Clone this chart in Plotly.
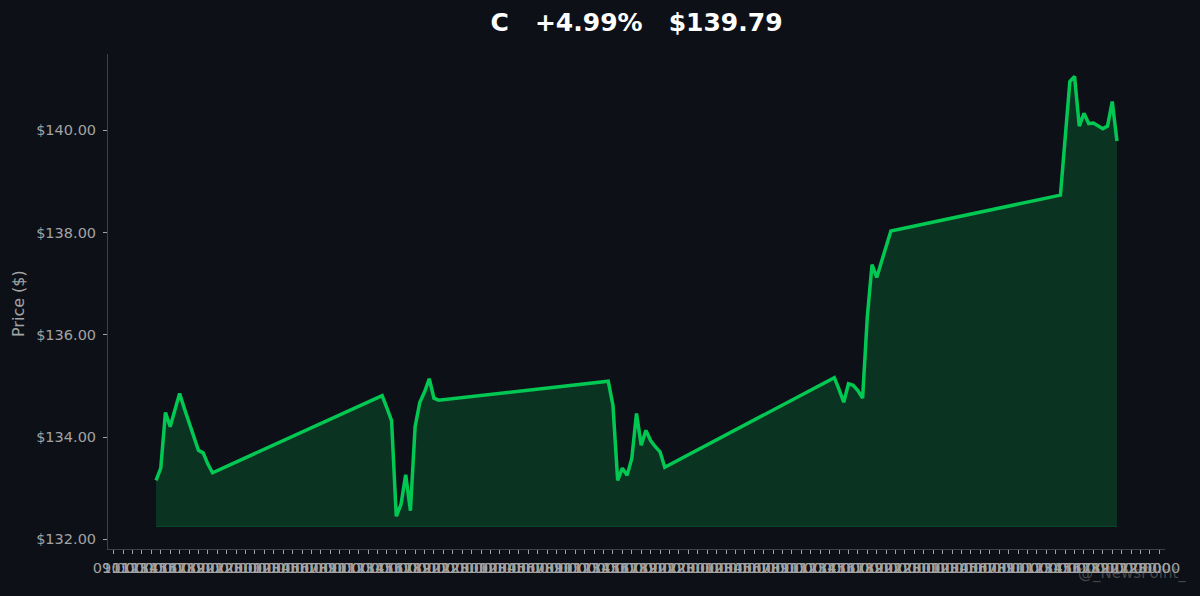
import pandas as pd
import plotly.graph_objects as go

# ---------------- data ----------------
ticker = "C"
trade_days = ["2025-06-02", "2025-06-03", "2025-06-04", "2025-06-05", "2025-06-06"]
bar_times = ["13:30", "14:00", "14:30", "15:00", "15:30", "16:00", "16:30",
             "17:00", "17:30", "18:00", "18:30", "19:00", "19:30"]

day1_prices = [133.15, 133.39, 134.48, 134.20, 134.53, 134.85, 134.56,
               134.30, 134.00, 133.74, 133.69, 133.47, 133.30]
day2_prices = [134.81, 134.57, 134.32, 132.45, 132.68, 133.26, 132.56,
               134.20, 134.68, 134.88, 135.14, 134.76, 134.72]
day3_prices = [135.09, 134.62, 133.15, 133.39, 133.25, 133.58, 134.46,
               133.84, 134.13, 133.93, 133.81, 133.71, 133.41]
day4_prices = [135.16, 134.93, 134.68, 135.04, 135.01, 134.91, 134.76,
               136.35, 137.37, 137.12, 137.44, 137.72, 138.03]
day5_prices = [138.73, 139.82, 140.95, 141.05, 140.08, 140.33, 140.13,
               140.14, 140.08, 140.03, 140.08, 140.56, 139.79]

y_tick_values = [132, 134, 136, 138, 140]

# ---------------- styles ----------------
BG = "#0d1117"
LINE = "#00c853"
FILL = "rgba(0,200,83,0.19)"
GRAY = "#a3a3a3"
SPINE = "#3d424a"
FONT = "DejaVu Sans"

# ---------------- build series ----------------
all_days = [day1_prices, day2_prices, day3_prices, day4_prices, day5_prices]
times, prices = [], []
for d, vals in zip(trade_days, all_days):
    for t, v in zip(bar_times, vals):
        times.append(pd.Timestamp(f"{d} {t}"))
        prices.append(v)

baseline = min(prices) - 0.2
first, last = prices[0], prices[-1]
pct = (last / first - 1) * 100

# axis ranges with 5% margins (matplotlib-like)
span = times[-1] - times[0]
x0 = times[0] - span * 0.05
x1 = times[-1] + span * 0.05
ylo, yhi = baseline, max(prices)
ypad = (yhi - ylo) * 0.05
y0, y1 = ylo - ypad, yhi + ypad

hour_ticks = pd.date_range(x0.ceil("h"), x1.floor("h"), freq="h")
hour_text = [t.strftime("%H:%M") for t in hour_ticks]

fig = go.Figure()
fig.add_trace(go.Scatter(
    x=times, y=[baseline] * len(times), mode="lines",
    line=dict(color="rgba(0,200,83,0.22)", width=1), hoverinfo="skip",
    showlegend=False))
fig.add_trace(go.Scatter(
    x=times, y=prices, mode="lines", fill="tonexty", fillcolor=FILL,
    line=dict(color=LINE, width=3.5), showlegend=False))

fig.update_layout(
    width=1200, height=596,
    paper_bgcolor=BG, plot_bgcolor=BG,
    margin=dict(l=108, r=35, t=54, b=47),
    font=dict(family=FONT, color=GRAY),
    title=dict(
        text=f"{ticker}\u00a0\u00a0\u00a0+{pct:.2f}%\u00a0\u00a0\u00a0${last:.2f}",
        x=0.5, xref="paper", y=1 - 22 / 596, yref="container",
        xanchor="center", yanchor="middle",
        font=dict(family=FONT, size=25, color="white", weight="bold")),
    xaxis=dict(
        type="date", range=[x0, x1], showgrid=False, zeroline=False,
        showline=True, linecolor=SPINE, linewidth=1,
        ticks="outside", ticklen=4, tickwidth=1, tickcolor=GRAY,
        tickvals=list(hour_ticks), ticktext=hour_text, tickangle=0,
        ticklabelstandoff=2,
        tickfont=dict(family=FONT, size=14.5, color=GRAY)),
    yaxis=dict(
        range=[y0, y1], showgrid=False, zeroline=False,
        showline=True, linecolor=SPINE, linewidth=1,
        ticks="outside", ticklen=4, tickwidth=1, tickcolor=GRAY,
        tickvals=y_tick_values, ticktext=[f"${v:.2f}" for v in y_tick_values],
        ticklabelstandoff=4,
        tickfont=dict(family=FONT, size=14.5, color=GRAY)),
    annotations=[
        dict(text="Price ($)", xref="paper", yref="paper",
             x=(18 - 108) / 1057, y=(549 - 304) / 495, textangle=-90,
             xanchor="center", yanchor="middle", showarrow=False,
             font=dict(family=FONT, size=16, color=GRAY)),
        dict(text="@_NewsPoint_", xref="paper", yref="paper",
             x=(1188 - 108) / 1057, y=(549 - 573) / 495,
             xanchor="right", yanchor="middle", showarrow=False,
             font=dict(family=FONT, size=15, color="rgba(140,140,140,0.45)")),
    ],
)

fig.write_html("out.html", config={"displayModeBar": False},
               post_script="document.body.style.margin='0';document.body.style.overflow='hidden';")
